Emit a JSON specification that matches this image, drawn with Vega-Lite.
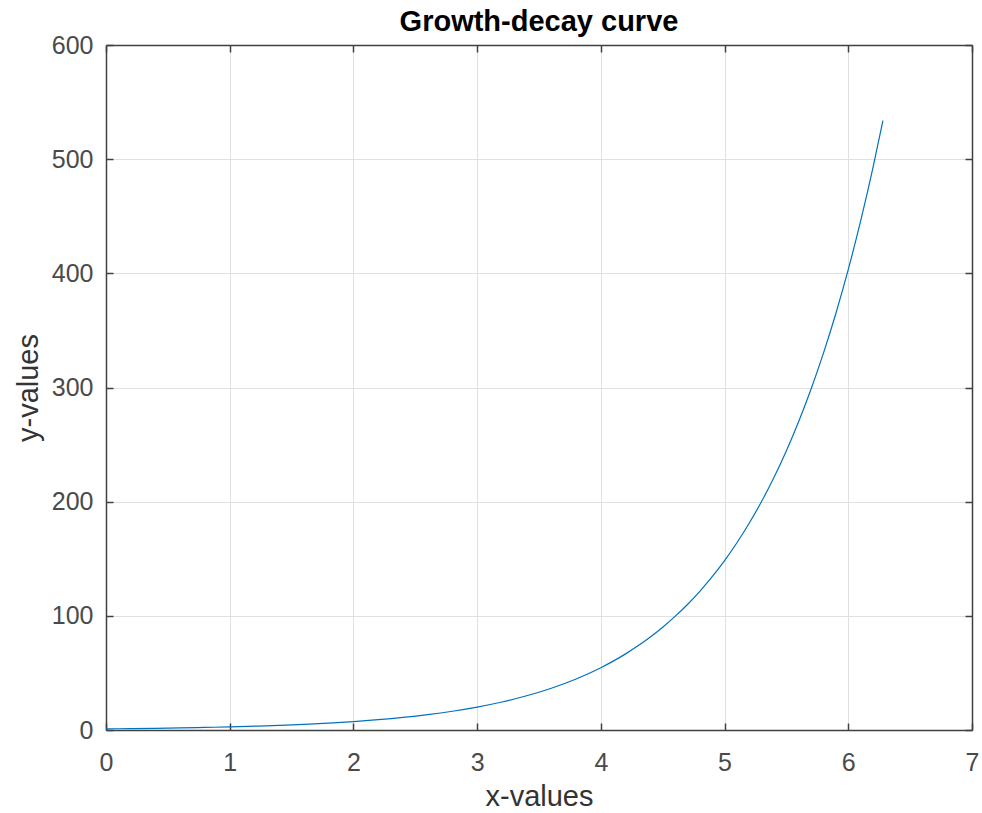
{
  "$schema": "https://vega.github.io/schema/vega-lite/v6.json",
  "autosize": "none",
  "width": 866,
  "height": 685,
  "padding": {"left": 106, "top": 45, "right": 10, "bottom": 83},
  "background": "white",
  "title": {"text": "Growth-decay curve", "font": "Liberation Sans", "fontSize": 29, "fontWeight": "bold", "color": "#000000", "offset": -4},
  "config": {
    "view": {"stroke": null},
    "axis": {"labelFont": "Liberation Sans", "titleFont": "Liberation Sans", "labelFontSize": 25, "titleFontSize": 29, "labelColor": "#4a4a4a", "titleColor": "#333333", "titleFontWeight": "normal", "domainColor": "#404040", "domainWidth": 1.5, "tickColor": "#404040", "tickWidth": 1.5, "tickSize": -7, "gridColor": "#e0e0e0", "gridWidth": 1, "labelFlush": false}
  },
  "data": {"values": [
    {"x": 0, "y": 1}, {"x": 0.2, "y": 1.221}, {"x": 0.4, "y": 1.492}, {"x": 0.6, "y": 1.822}, {"x": 0.8, "y": 2.226},
    {"x": 1.0, "y": 2.718}, {"x": 1.2, "y": 3.32}, {"x": 1.4, "y": 4.055}, {"x": 1.6, "y": 4.953}, {"x": 1.8, "y": 6.05},
    {"x": 2.0, "y": 7.389}, {"x": 2.2, "y": 9.025}, {"x": 2.4, "y": 11.023}, {"x": 2.6, "y": 13.464}, {"x": 2.8, "y": 16.445},
    {"x": 3.0, "y": 20.086}, {"x": 3.2, "y": 24.533}, {"x": 3.4, "y": 29.964}, {"x": 3.6, "y": 36.598}, {"x": 3.8, "y": 44.701},
    {"x": 4.0, "y": 54.598}, {"x": 4.1, "y": 60.34}, {"x": 4.2, "y": 66.686}, {"x": 4.3, "y": 73.7}, {"x": 4.4, "y": 81.451},
    {"x": 4.5, "y": 90.017}, {"x": 4.6, "y": 99.484}, {"x": 4.7, "y": 109.95}, {"x": 4.8, "y": 121.51}, {"x": 4.9, "y": 134.29},
    {"x": 5.0, "y": 148.41}, {"x": 5.1, "y": 164.02}, {"x": 5.2, "y": 181.27}, {"x": 5.3, "y": 200.34}, {"x": 5.4, "y": 221.41},
    {"x": 5.5, "y": 244.69}, {"x": 5.6, "y": 270.43}, {"x": 5.7, "y": 298.87}, {"x": 5.8, "y": 330.3}, {"x": 5.9, "y": 365.04},
    {"x": 6.0, "y": 403.43}, {"x": 6.1, "y": 445.86}, {"x": 6.2, "y": 492.75}, {"x": 6.28, "y": 533.74}
  ]},
  "layer": [
    {
      "mark": {"type": "line", "color": "#0072BD", "strokeWidth": 1.2, "interpolate": "monotone", "clip": true},
      "encoding": {
        "x": {"field": "x", "type": "quantitative", "scale": {"domain": [0, 7], "nice": false}, "axis": {"title": "x-values", "values": [0,1,2,3,4,5,6,7], "format": "d", "grid": true, "labelPadding": 27, "titlePadding": 7}},
        "y": {"field": "y", "type": "quantitative", "scale": {"domain": [0, 600], "nice": false}, "axis": {"title": "y-values", "values": [0,100,200,300,400,500,600], "format": "d", "grid": true, "labelPadding": 20, "titlePadding": 8}}
      }
    },
    {
      "mark": {"type": "point", "opacity": 0},
      "encoding": {
        "x": {"field": "x", "type": "quantitative", "axis": {"orient": "top", "title": null, "labels": false, "values": [0,1,2,3,4,5,6,7], "grid": false}},
        "y": {"field": "y", "type": "quantitative", "axis": {"orient": "right", "title": null, "labels": false, "values": [0,100,200,300,400,500,600], "grid": false}}
      }
    }
  ],
  "resolve": {"axis": {"x": "independent", "y": "independent"}}
}
